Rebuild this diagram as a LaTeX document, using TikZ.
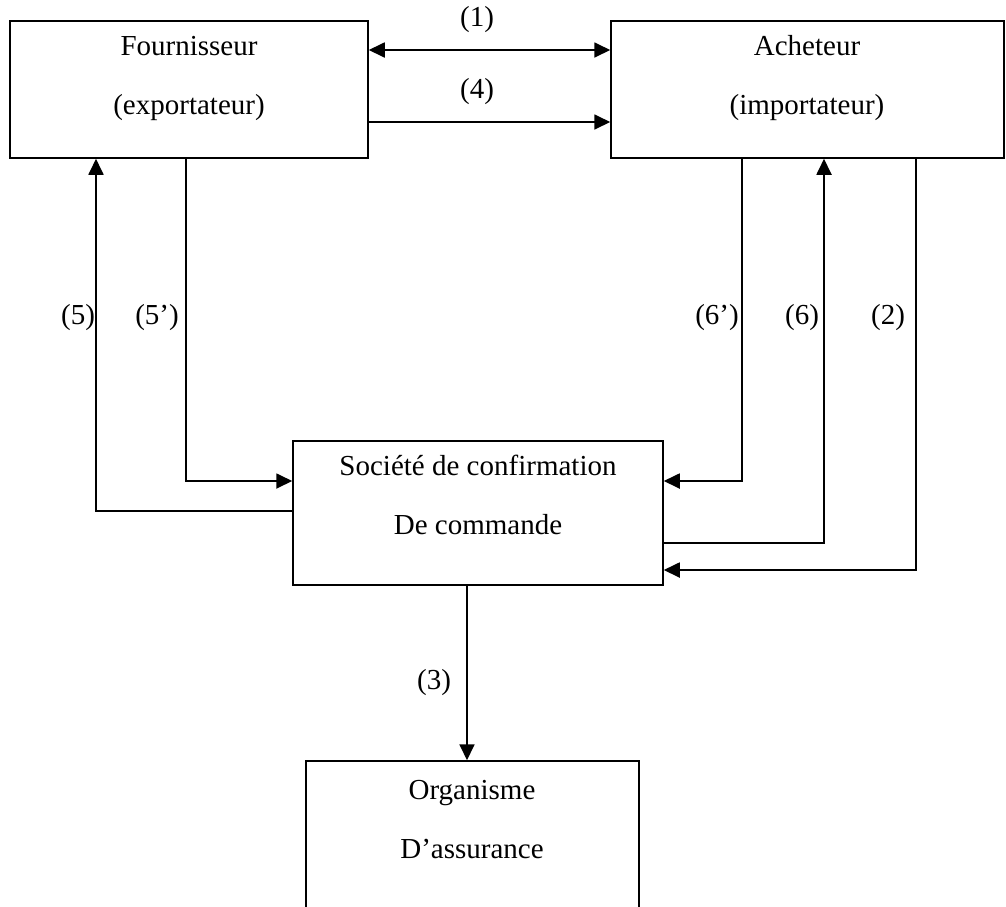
\documentclass[tikz,border=0pt]{standalone}
\usepackage{fontspec}
\setmainfont{Liberation Serif}
\usetikzlibrary{arrows.meta}
\begin{document}
\begin{tikzpicture}[x=1pt,y=-1pt,
  box/.style={draw,line width=1.5pt,inner sep=0pt},
  txt/.style={align=center,font=\fontsize{29}{59}\selectfont,inner sep=0pt},
  lab/.style={font=\fontsize{29}{35}\selectfont,inner sep=0pt},
  tip/.style={Triangle[length=16pt,width=15pt]},
  arr/.style={line width=1.8pt,-{Triangle[length=16pt,width=15pt]}},
  darr/.style={line width=1.8pt,{Triangle[length=16pt,width=15pt]}-{Triangle[length=16pt,width=15pt]}}]
\clip (0,0) rectangle (1006,906);
\fill[white] (0,0) rectangle (1006,906);

% boxes
\node[box,minimum width=358pt,minimum height=137pt] (F) at (189,89.5) {};
\node[box,minimum width=393pt,minimum height=137pt] (A) at (807.5,89.5) {};
\node[box,minimum width=370pt,minimum height=144pt] (S) at (478,513) {};
\node[box,minimum width=333pt,minimum height=200pt] (O) at (472.5,861) {};

% box texts
\node[txt] (Ft) at (189,78.5) {Fournisseur\\(exportateur)};
\node[txt] (At) at (807,78.5) {Acheteur\\(importateur)};
\node[txt] (St) at (478,495) {Société de confirmation\\De commande};
\node[txt] (Ot) at (472,819.5) {Organisme\\D’assurance};

% connectors
\draw[darr] (F.east |- 0,50) -- (A.west |- 0,50);
\draw[arr] (F.east |- 0,122) -- (A.west |- 0,122);
\draw[arr] (S.west |- 0,511) -| (F.south -| 96,0);
\draw[arr] (F.south -| 186,0) |- (S.west |- 0,481);
\draw[arr] (A.south -| 742,0) |- (S.east |- 0,481);
\draw[arr] (S.east |- 0,543) -| (A.south -| 824,0);
\draw[arr] (A.south -| 916,0) |- (S.east |- 0,570);
\draw[arr] (S.south -| 467,0) -- (O.north -| 467,0);

% connector labels
\node[lab] (l1) at (477,20) {(1)};
\node[lab] (l4) at (477,92) {(4)};
\node[lab] (l5) at (78,318) {(5)};
\node[lab] (l5p) at (157,318) {(5’)};
\node[lab] (l6p) at (717,318) {(6’)};
\node[lab] (l6) at (802,318) {(6)};
\node[lab] (l2) at (888,318) {(2)};
\node[lab] (l3) at (434,683) {(3)};
\end{tikzpicture}
\end{document}
